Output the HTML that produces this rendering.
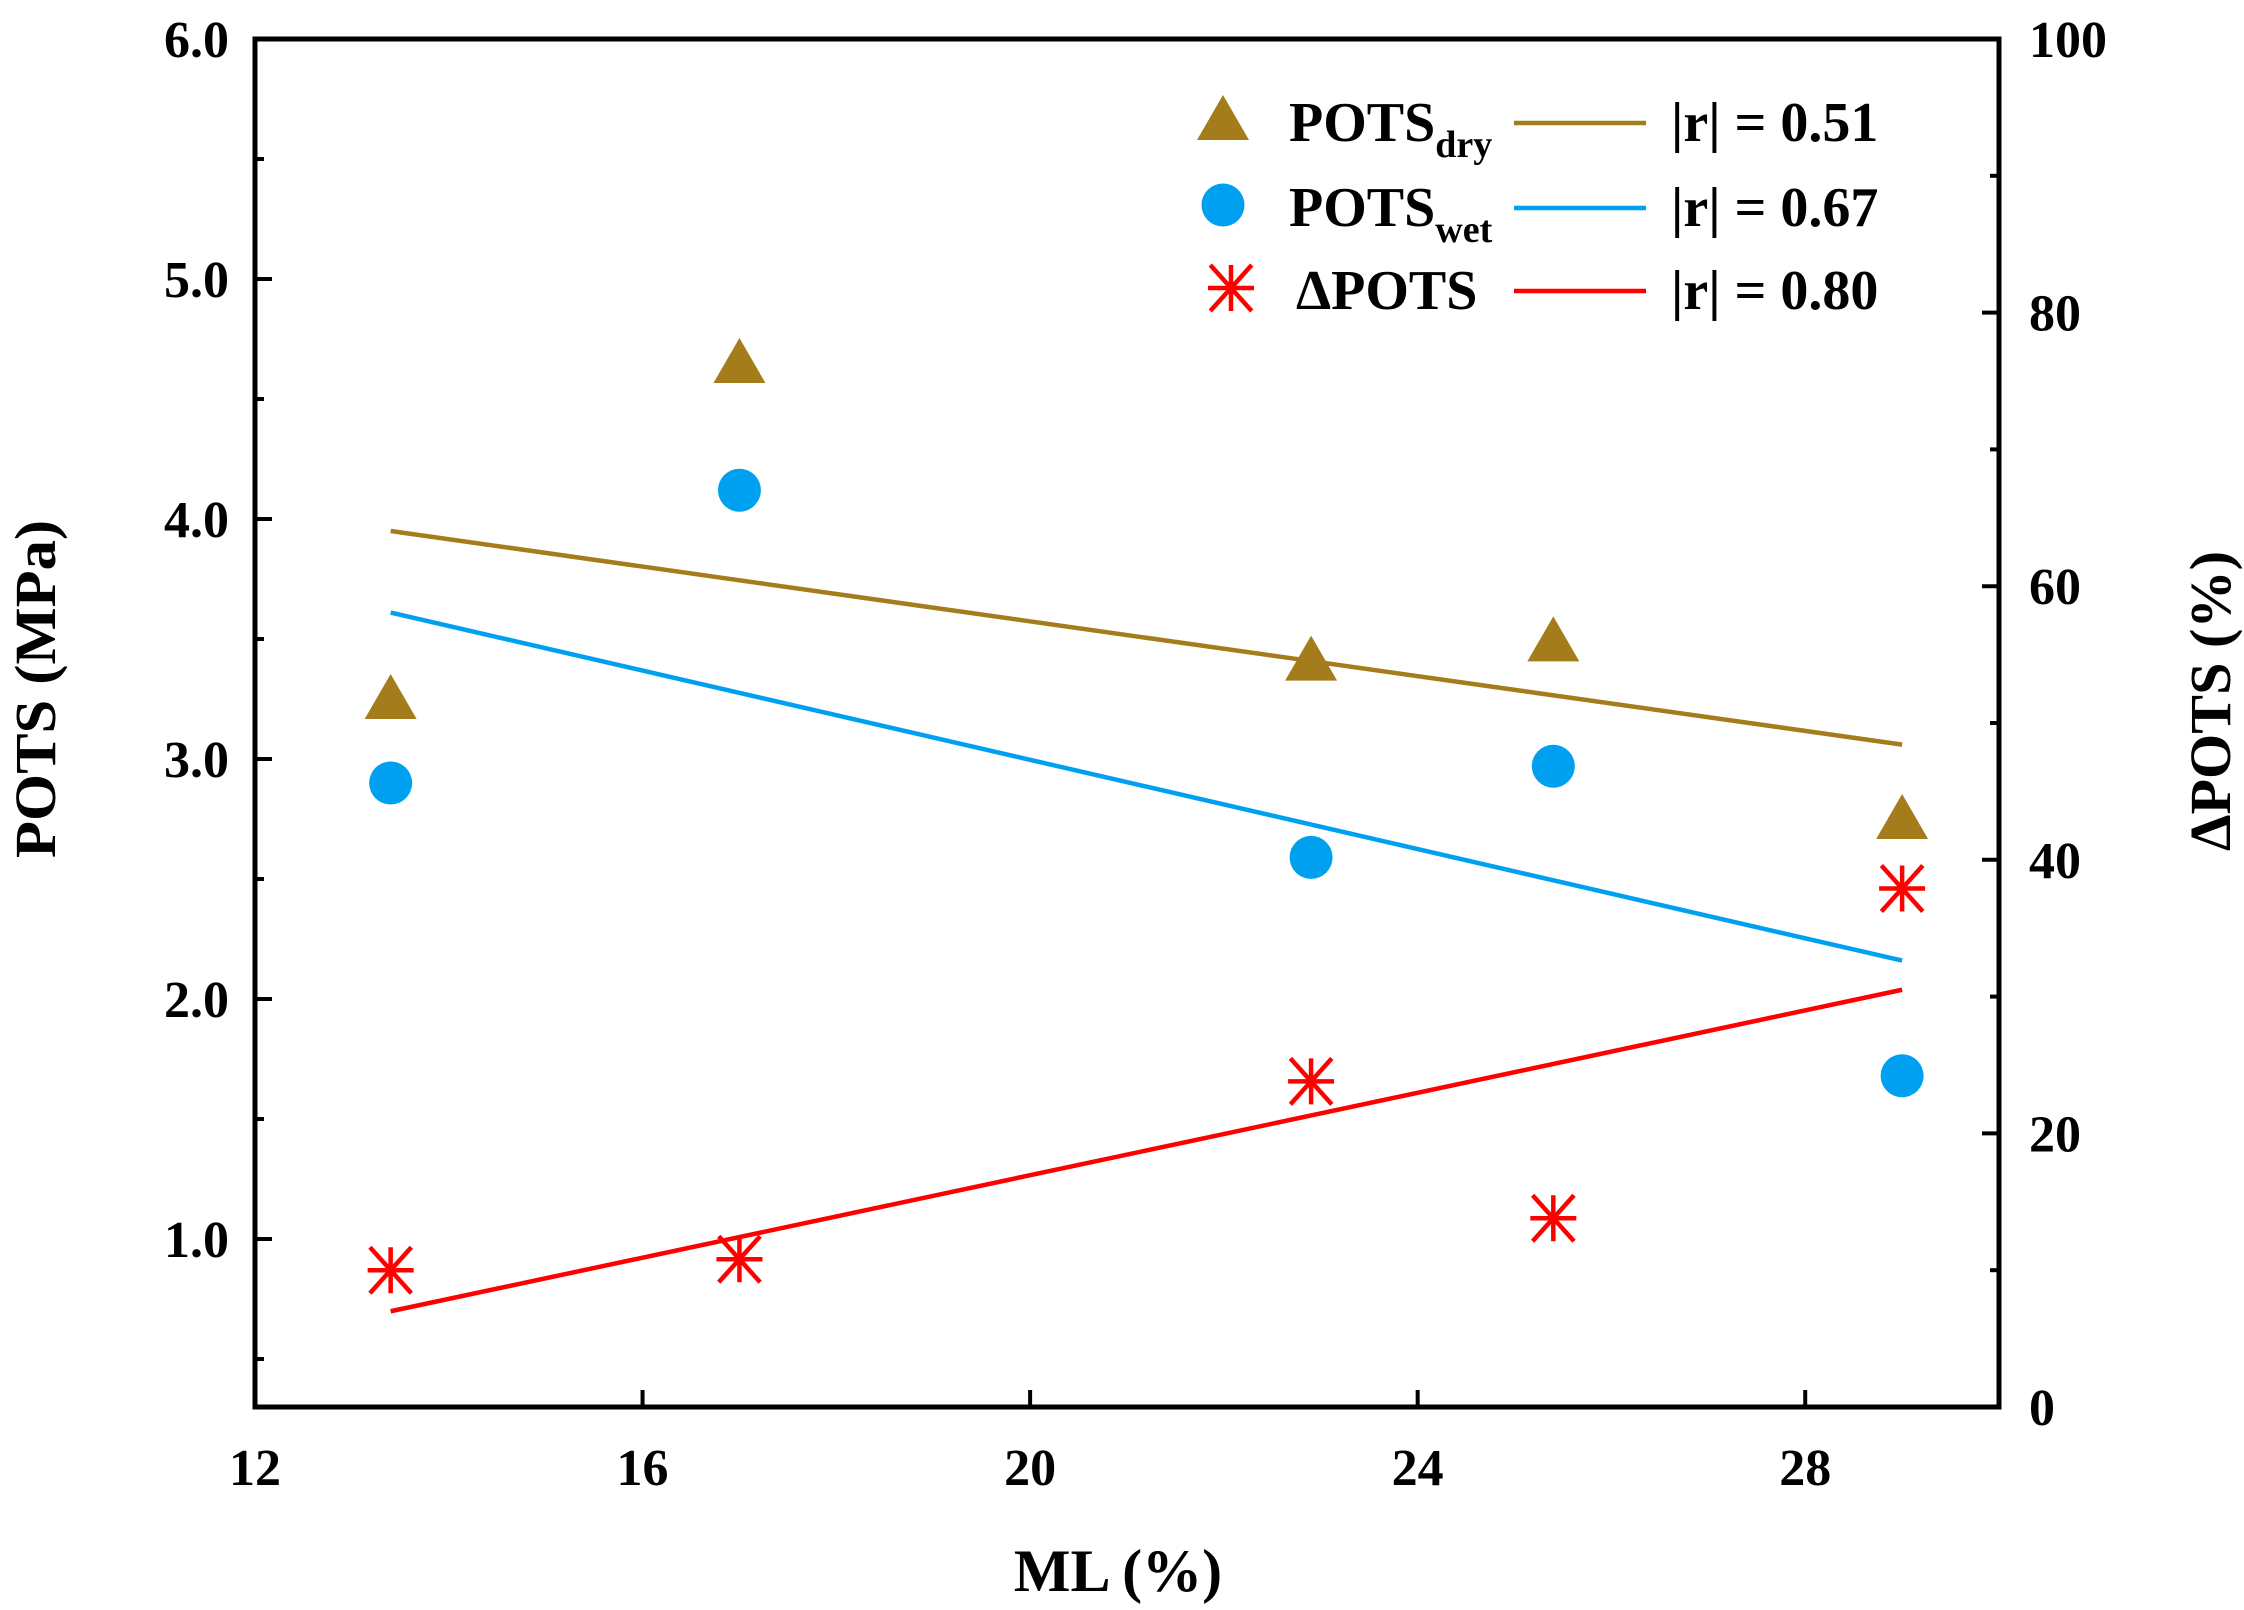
<!DOCTYPE html>
<html>
<head>
<meta charset="utf-8">
<style>
  html, body { margin: 0; padding: 0; background: #ffffff; }
  svg { display: block; }
  text { font-family: "Liberation Serif", "DejaVu Serif", serif; font-weight: bold; fill: #000; }
</style>
</head>
<body>
<svg id="chart" width="2244" height="1610" viewBox="0 0 2244 1610" xmlns="http://www.w3.org/2000/svg">
  <g id="plot"></g>
</svg>
<script>
// ---- data ----
const mlValues = [13.4, 17.0, 22.9, 25.4, 29.0];
const potsDry = [3.25, 4.65, 3.41, 3.49, 2.75];
const potsWet = [2.90, 4.12, 2.59, 2.97, 1.68];
const deltaPots = [10.0, 10.8, 23.8, 13.8, 37.9];
const fitX = [13.4, 29.0];
const fitDry = [3.95, 3.06];
const fitWet = [3.61, 2.16];
const fitDelta = [7.0, 30.5];
const xTicks = [12, 16, 20, 24, 28];
const yLeftTicks = [1.0, 2.0, 3.0, 4.0, 5.0, 6.0];
const yLeftTickLabels = ["1.0", "2.0", "3.0", "4.0", "5.0", "6.0"];
const yRightTicks = [0, 20, 40, 60, 80, 100];
const legendLabels = ["POTS", "POTS", "\u0394POTS"];
const legendSubs = ["dry", "wet", ""];
const legendR = ["|r| = 0.51", "|r| = 0.67", "|r| = 0.80"];

// ---- layout ----
const L = 255, R = 1999, T = 39, B = 1407;
const X0 = 12, X1 = 30, Y0 = 0.3, Y1 = 6.0, R0 = 0, R1 = 100;
const sx = v => L + (v - X0) / (X1 - X0) * (R - L);
const sy = v => B - (v - Y0) / (Y1 - Y0) * (B - T);
const sr = v => B - (v - R0) / (R1 - R0) * (B - T);
const C_DRY = "#a57c1b", C_WET = "#00a0f0", C_DELTA = "#ff0000";
const NS = "http://www.w3.org/2000/svg";
const g = document.getElementById('plot');
function mk(tag, attrs, parent) {
  const e = document.createElementNS(NS, tag);
  for (const k in attrs) e.setAttribute(k, attrs[k]);
  (parent || g).appendChild(e);
  return e;
}

// fit lines
function fitLine(ys, scale, color, name) {
  const l = mk('line', {x1: sx(fitX[0]), y1: scale(ys[0]), x2: sx(fitX[1]), y2: scale(ys[1]), stroke: color, 'stroke-width': 4.5});
  
  
}
fitLine(fitDry, sy, C_DRY, 'fit-line-dry');
fitLine(fitWet, sy, C_WET, 'fit-line-wet');
fitLine(fitDelta, sr, C_DELTA, 'fit-line-delta');

// markers
function triangle(cx, cy, parent) {
  return mk('polygon', {points: `${cx},${cy-25} ${cx-26},${cy+20} ${cx+26},${cy+20}`, fill: C_DRY}, parent);
}
function circle(cx, cy, parent) {
  return mk('circle', {cx: cx, cy: cy, r: 21.5, fill: C_WET}, parent);
}
function star(cx, cy, parent) {
  const grp = mk('g', {stroke: C_DELTA, 'stroke-width': 4.5}, parent);
  const r = 23, dx = 23, dy = 23;
  mk('line', {x1: cx, y1: cy - r, x2: cx, y2: cy + r}, grp);
  mk('line', {x1: cx - r, y1: cy, x2: cx + r, y2: cy}, grp);
  mk('line', {x1: cx - dx*0.9, y1: cy - dy, x2: cx + dx*0.9, y2: cy + dy}, grp);
  mk('line', {x1: cx - dx*0.9, y1: cy + dy, x2: cx + dx*0.9, y2: cy - dy}, grp);
  return grp;
}
for (let i = 0; i < mlValues.length; i++) {
  const t = triangle(sx(mlValues[i]), sy(potsDry[i]));
  
  
  const c = circle(sx(mlValues[i]), sy(potsWet[i]));
  
  
  const s = star(sx(mlValues[i]), sr(deltaPots[i]));
  
  
}

// axes frame
const frame = mk('rect', {x: L, y: T, width: R - L, height: B - T, fill: 'none', stroke: '#000', 'stroke-width': 5});



// x ticks
xTicks.forEach(v => {
  const x = sx(v);
  mk('line', {x1: x, y1: B, x2: x, y2: B - 17, stroke: '#000', 'stroke-width': 4});
  const t = mk('text', {x: x, y: 1485, 'font-size': 52, 'text-anchor': 'middle'});
  t.textContent = v;
  
  
});
// left y ticks
yLeftTicks.forEach((v, i) => {
  const y = sy(v);
  mk('line', {x1: L, y1: y, x2: L + 17, y2: y, stroke: '#000', 'stroke-width': 4});
  if (v - 0.5 >= Y0) mk('line', {x1: L, y1: sy(v - 0.5), x2: L + 9, y2: sy(v - 0.5), stroke: '#000', 'stroke-width': 4});
  const t = mk('text', {x: 229, y: y + 18, 'font-size': 52, 'text-anchor': 'end'});
  t.textContent = yLeftTickLabels[i];
  
  
});
// right y ticks
yRightTicks.forEach(v => {
  const y = sr(v);
  mk('line', {x1: R, y1: y, x2: R - 17, y2: y, stroke: '#000', 'stroke-width': 4});
  if (v + 10 < R1) mk('line', {x1: R, y1: sr(v + 10), x2: R - 9, y2: sr(v + 10), stroke: '#000', 'stroke-width': 4});
  const t = mk('text', {x: 2029, y: y + 18, 'font-size': 52, 'text-anchor': 'start'});
  t.textContent = v;
  
  
});

// axis titles
const xt = mk('text', {x: 1118, y: 1591, 'font-size': 60, 'text-anchor': 'middle'});
xt.textContent = 'ML (%)';


const yl = mk('text', {x: 0, y: 0, 'font-size': 58, 'text-anchor': 'middle', transform: 'translate(55,689) rotate(-90)', textLength: 338, lengthAdjust: 'spacingAndGlyphs'});
yl.textContent = 'POTS (MPa)';


const yr = mk('text', {x: 0, y: 0, 'font-size': 58, 'text-anchor': 'middle', transform: 'translate(2230,701) rotate(-90)', textLength: 300, lengthAdjust: 'spacingAndGlyphs'});
yr.textContent = '\u0394POTS (%)';



// legend
const legendY = [120, 205, 288];
const legendColors = [C_DRY, C_WET, C_DELTA];
const markerFns = [triangle, circle, star];
const legendNames = ['legend-entry-dry', 'legend-entry-wet', 'legend-entry-delta'];
for (let i = 0; i < 3; i++) {
  const lg = mk('g', {});
  
  
  markerFns[i](i === 2 ? 1231 : 1223, legendY[i], lg);
  const tx = mk('text', {x: i === 2 ? 1296 : 1289, y: legendY[i] + 21, 'font-size': 56}, lg);
  tx.textContent = legendLabels[i];
  if (legendSubs[i]) {
    const ts = mk('tspan', {'font-size': 38, dy: 16}, tx);
    ts.textContent = legendSubs[i];
  }
  mk('line', {x1: 1514, y1: legendY[i] + 3, x2: 1646, y2: legendY[i] + 3, stroke: legendColors[i], 'stroke-width': 4.5}, lg);
  const tr = mk('text', {x: 1671, y: legendY[i] + 21, 'font-size': 56}, lg);
  tr.textContent = legendR[i];
}
</script>
</body>
</html>
